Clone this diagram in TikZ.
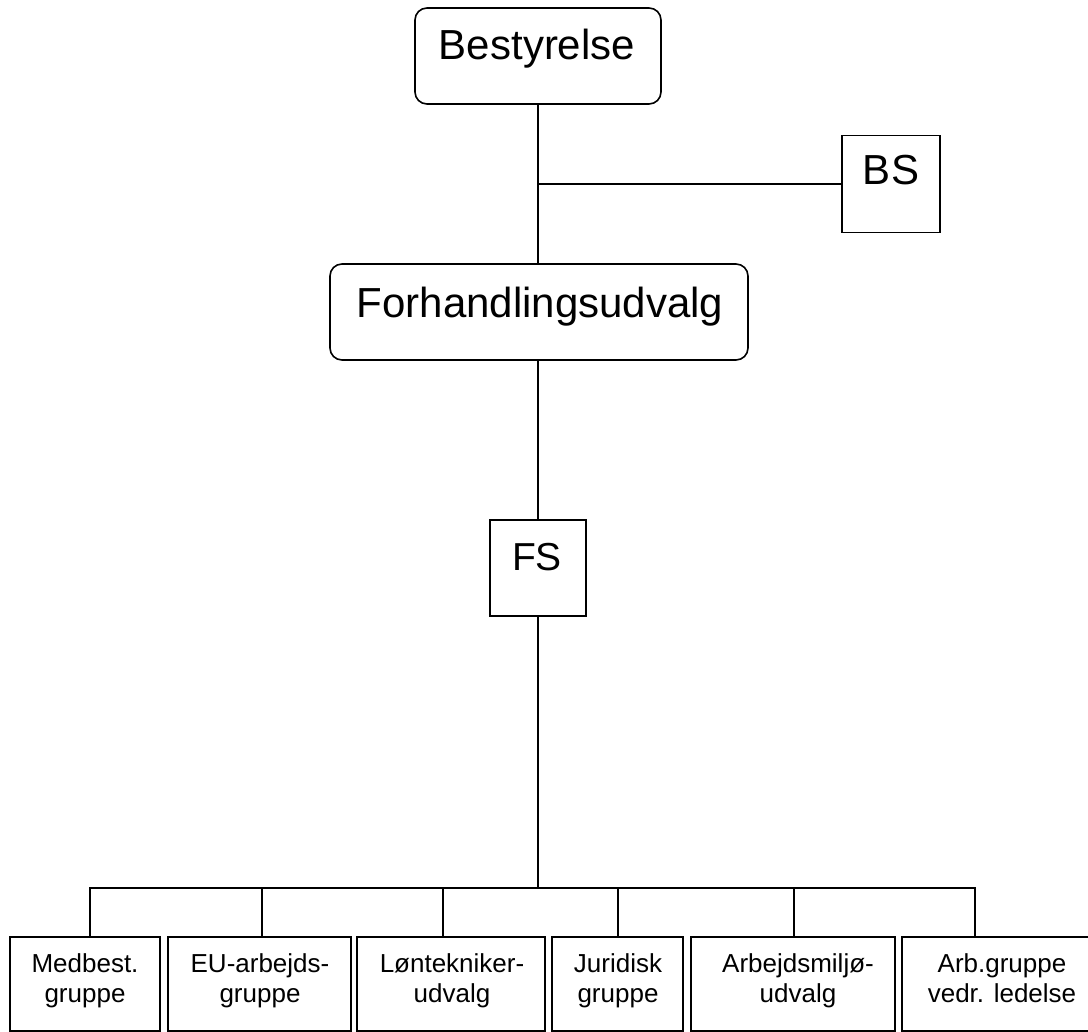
\documentclass[tikz,border=0pt]{standalone}
\usepackage{fontspec}
\setmainfont{Liberation Sans}
\begin{document}
\begin{tikzpicture}[x=1pt,y=-1pt,
  line width=1.6pt,
  rbox/.style={draw, rounded corners=12pt, inner sep=0pt},
  sbox/.style={draw, inner sep=0pt},
  bigtxt/.style={anchor=base, inner sep=0pt, font=\fontsize{42}{48}\selectfont},
  smalltxt/.style={anchor=base, inner sep=0pt, align=center, font=\fontsize{26}{30}\selectfont},
  conn/.style={draw, line width=1.6pt}
]
\clip (0,0) rectangle (1088,1032);
\fill[white] (0,0) rectangle (1088,1032);

% top boxes
\node[rbox, minimum width=246pt, minimum height=96pt] (best) at (538,56) {};
\node[bigtxt] (tbest) at (537,60) {Bestyrelse};

\node[sbox, minimum width=98pt, minimum height=97pt] (bs) at (891,184) {};
\node[bigtxt] (tbs) at (891,185) {BS};

\node[rbox, minimum width=418pt, minimum height=96pt] (forh) at (539,312) {};
\node[bigtxt] (tforh) at (540,318) {Forhandlingsudvalg};

\node[sbox, minimum width=96pt, minimum height=96pt] (fs) at (538,568) {};
\node[bigtxt, font=\fontsize{39}{45}\selectfont] (tfs) at (537,570) {FS};

% bottom boxes
\node[sbox, minimum width=150pt, minimum height=94pt] (b1) at (85,984) {};
\node[sbox, minimum width=183pt, minimum height=94pt] (b2) at (259.5,984) {};
\node[sbox, minimum width=188pt, minimum height=94pt] (b3) at (451,984) {};
\node[sbox, minimum width=131pt, minimum height=94pt] (b4) at (617.5,984) {};
\node[sbox, minimum width=204pt, minimum height=94pt] (b5) at (793,984) {};
\node[sbox, minimum width=200pt, minimum height=94pt] (b6) at (1002,984) {};

\node[smalltxt] (t1) at (85,1002) {Medbest.\\gruppe};
\node[smalltxt] (t2) at (260,1002) {EU-arbejds-\\gruppe};
\node[smalltxt] (t3) at (452,1002) {Løntekniker-\\udvalg};
\node[smalltxt] (t4) at (618,1002) {Juridisk\\gruppe};
\node[smalltxt] (t5) at (798,1002) {Arbejdsmiljø-\\udvalg};
\node[smalltxt] (t6) at (1002,1002) {Arb.gruppe\\vedr. ledelse};

% connectors
\path[conn] (best.south) -- (forh.north -| best.south);
\path[conn] (bs.west) -- (bs.west -| best.south);
\path[conn] (forh.south -| fs.north) -- (fs.north);
\coordinate (bus) at (538,888);
\path[conn] (fs.south) -- (bus);
\coordinate (d1) at (90,937);
\coordinate (d2) at (262,937);
\coordinate (d3) at (443,937);
\coordinate (d4) at (618,937);
\coordinate (d5) at (794,937);
\coordinate (d6) at (975,937);
\path[conn] (d1) |- (bus) -| (d6);
\path[conn] (d2) -- (d2 |- bus);
\path[conn] (d3) -- (d3 |- bus);
\path[conn] (d4) -- (d4 |- bus);
\path[conn] (d5) -- (d5 |- bus);
\end{tikzpicture}
\end{document}
